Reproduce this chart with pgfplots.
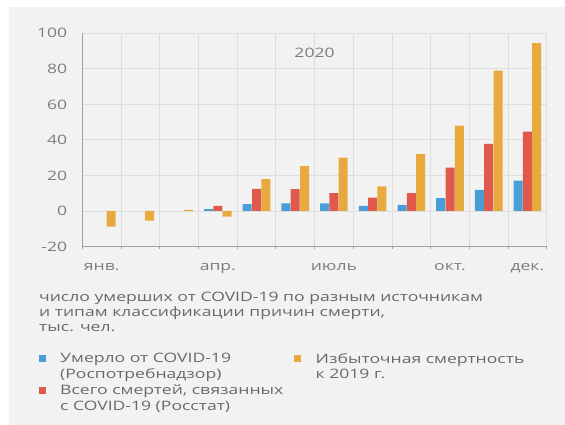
\documentclass[border=0pt]{standalone}
\usepackage{fontspec}
\setmainfont{Open Sans}[FakeStretch=1.35]
\usepackage{pgfplots}
\pgfplotsset{compat=1.18}

\definecolor{cblue}{RGB}{74,158,214}
\definecolor{cred}{RGB}{224,90,76}
\definecolor{cyellow}{RGB}{232,170,62}
\definecolor{panel}{RGB}{242,242,242}
\definecolor{gridgray}{RGB}{222,222,222}
\definecolor{axisgray}{RGB}{160,160,160}
\definecolor{tickgray}{RGB}{125,125,125}
\definecolor{textgray}{RGB}{105,105,105}
\newcommand\chartfont{\fontsize{13bp}{15.5bp}\selectfont}

\begin{document}
\begin{tikzpicture}
\path[use as bounding box] (0,0) rectangle (565bp,425bp);
\fill[white] (0,0) rectangle (565bp,425bp);
\fill[panel] (9bp,0) rectangle (565bp,418bp);
\begin{axis}[
  at={(82.35bp,178.5bp)}, anchor=south west,
  scale only axis, width=464.4bp, height=213.2bp,
  xmin=-0.5, xmax=11.5, ymin=-20, ymax=100,
  ybar, bar width=9bp,
  axis x line*=bottom, axis y line*=left,
  axis line style={draw=axisgray, line width=1bp},
  xtick={0,3,6,9,11},
  xticklabels={янв.,апр.,июль,окт.,дек.},
  minor xtick={-0.5,0.5,...,11.5},
  ytick={-20,0,20,40,60,80,100},
  major tick length=0pt, minor tick length=3bp,
  tick align=outside,
  minor tick style={draw=axisgray, line width=0.8bp},
  xminorgrids=true, ymajorgrids=true, xmajorgrids=false,
  grid style={draw=gridgray, line width=0.8bp},
  minor grid style={draw=gridgray, line width=0.8bp},
  /pgf/number format/assume math mode=true,
  tick label style={font=\chartfont, text=tickgray},
  yticklabel style={anchor=east, inner xsep=0pt, xshift=-15bp},
  xticklabel style={anchor=base, yshift=-24bp},
  legend columns=2,
  legend cell align=left,
  legend style={at={(-0.0944,-0.4996)}, anchor=north west, draw=none, fill=none,
    inner sep=0pt, font=\chartfont, text=textgray, row sep=20.5bp,
    nodes={inner sep=0pt},
    /tikz/every odd column/.append style={column sep=14.5bp}},
  legend image code/.code={\fill[#1] (0bp,-3.5bp) rectangle (7bp,3.5bp);},
]
\addplot[fill=cblue, draw=none, bar shift=-9.3bp] coordinates {
  (3,1.0) (4,3.8) (5,4.3) (6,4.3) (7,2.8) (8,3.4) (9,7.2) (10,11.9) (11,17.1)};
\addlegendentry{\parbox[t]{234bp}{\raggedright Умерло от COVID-19\\(Роспотребнадзор)}}
\addplot[fill=cyellow, draw=none, bar shift=9.3bp] coordinates {
  (0,-8.8) (1,-5.5) (2,0.6) (3,-3.2) (4,17.9) (5,25.3) (6,30.0) (7,13.8) (8,32.0) (9,48.0) (10,79.0) (11,94.4)};
\addlegendentry{\parbox[t]{250bp}{\raggedright Избыточная смертность\\к 2019 г.}}
\addplot[fill=cred, draw=none, bar shift=0bp] coordinates {
  (3,2.8) (4,12.4) (5,12.3) (6,10.0) (7,7.5) (8,10.0) (9,24.4) (10,37.7) (11,44.6)};
\addlegendentry{\parbox[t]{234bp}{\raggedright Всего смертей, связанных\\с COVID-19 (Росстат)}}
\node[font=\chartfont, text=tickgray] at (axis cs:5.5,89) {2020};
\end{axis}
\node[anchor=base west, inner sep=0pt, font=\chartfont, text=textgray] at (39bp,123.5bp)
  {\parbox[t]{520bp}{\raggedright\baselineskip=15bp число умерших от COVID-19 по разным источникам\\и типам классификации причин смерти,\\тыс. чел.}};
\end{tikzpicture}
\end{document}
